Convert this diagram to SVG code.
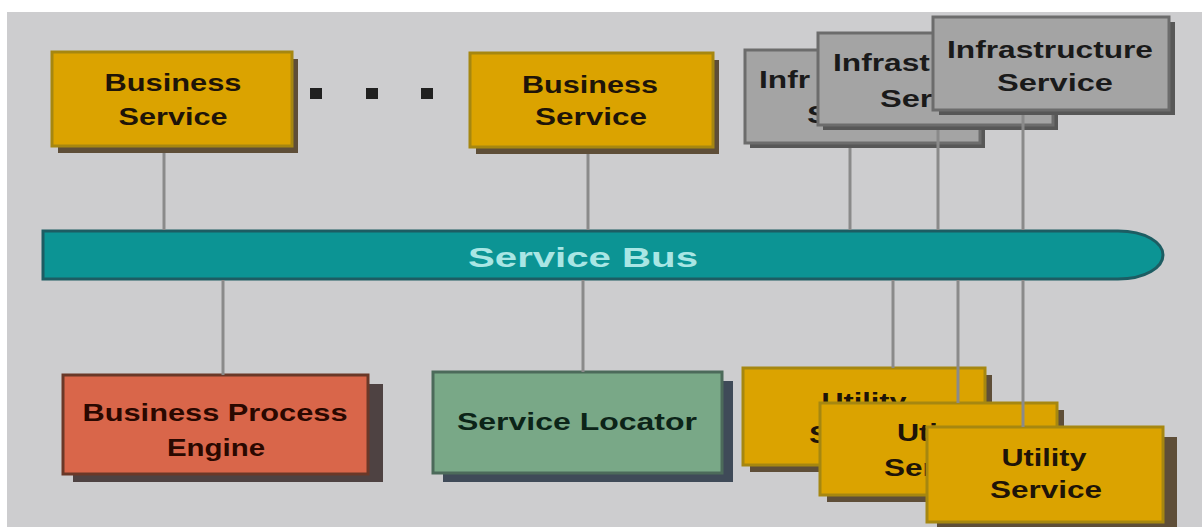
<svg xmlns="http://www.w3.org/2000/svg" width="1202" height="527" viewBox="0 0 1202 527">
<style>
  .lbl{font-family:"Liberation Sans",Arial,sans-serif;font-weight:bold;font-size:23px;text-anchor:middle}
  .st{text-anchor:start}
  .ylw{fill:#dba300;stroke:#a68710;stroke-width:3}
  .ylw-sh{fill:#5e4e38}
  .gry{fill:#a4a4a4;stroke:#6c6c6c;stroke-width:3}
  .gry-sh{fill:#575757}
  .red{fill:#d9664a;stroke:#6a3828;stroke-width:3}
  .red-sh{fill:#4e4242}
  .grn{fill:#79a887;stroke:#4c6a5a;stroke-width:3}
  .grn-sh{fill:#3f4a58}
  .t-dark{fill:#1e1408}
  .t-red{fill:#2a0800}
  .t-grn{fill:#0c2418}
  .t-gry{fill:#1a1a1a}
  .conn line{stroke:#8a8a8a;stroke-width:3}
</style>
<defs>
  <clipPath id="clipInfA"><path d="M745,50 H818 V130 H985 V148 H745 Z"/></clipPath>
  <clipPath id="clipInfB"><path d="M818,33 H933 V115 H1058 V130 H818 Z"/></clipPath>
  <clipPath id="clipUtA"><path d="M743,368 H993 V403 H820 V472 H743 Z"/></clipPath>
  <clipPath id="clipUtB"><path d="M820,403 H1064 V427 H927 V502 H820 Z"/></clipPath>
</defs>
<rect x="0" y="0" width="1202" height="527" fill="#ffffff"/>
<rect x="7" y="12" width="1195" height="515" fill="#cdcdcf"/>

<g id="service-bus">
  <path d="M43,231 H1118 C1146,231 1163,243 1163,255 C1163,267 1146,279 1118,279 H43 Z" fill="#0c9494" stroke="#1d5d63" stroke-width="3"/>
  <text class="lbl" x="583" y="267" style="font-size:28px" fill="#a9e6e4" textLength="230" lengthAdjust="spacingAndGlyphs">Service Bus</text>
</g>

<g id="business-service-1">
  <rect class="ylw-sh" x="58" y="59" width="240" height="94"/>
  <rect class="ylw" x="52" y="52" width="240" height="94"/>
  <text class="lbl t-dark" x="173" y="91" textLength="137" lengthAdjust="spacingAndGlyphs">Business</text>
  <text class="lbl t-dark" x="173" y="125" textLength="109" lengthAdjust="spacingAndGlyphs">Service</text>
</g>

<g id="ellipsis" fill="#202020">
  <rect x="310" y="88" width="12" height="11"/>
  <rect x="366" y="88" width="12" height="11"/>
  <rect x="421" y="88" width="12" height="11"/>
</g>

<g id="business-service-2">
  <rect class="ylw-sh" x="476" y="60" width="243" height="94"/>
  <rect class="ylw" x="470" y="53" width="243" height="94"/>
  <text class="lbl t-dark" x="590" y="93" textLength="136" lengthAdjust="spacingAndGlyphs">Business</text>
  <text class="lbl t-dark" x="591" y="125" textLength="112" lengthAdjust="spacingAndGlyphs">Service</text>
</g>

<g id="infrastructure-service-1">
  <rect class="gry-sh" x="750" y="55" width="235" height="93"/>
  <rect class="gry" x="745" y="50" width="235" height="93"/>
  <g clip-path="url(#clipInfA)">
    <text class="lbl st t-gry" transform="translate(759,88) scale(1.378,1)">Infr</text>
    <text class="lbl st t-gry" transform="translate(807,123) scale(1.418,1)">S</text>
  </g>
</g>

<g id="infrastructure-service-2">
  <rect class="gry-sh" x="823" y="38" width="235" height="92"/>
  <rect class="gry" x="818" y="33" width="235" height="92"/>
  <g clip-path="url(#clipInfB)">
    <text class="lbl st t-gry" transform="translate(833,71) scale(1.378,1)">Infrast</text>
    <text class="lbl st t-gry" transform="translate(880,107) scale(1.418,1)">Ser</text>
  </g>
</g>

<g id="infrastructure-service-3">
  <rect class="gry-sh" x="939" y="22" width="236" height="93"/>
  <rect class="gry" x="933" y="17" width="236" height="93"/>
  <text class="lbl t-gry" x="1050" y="58" textLength="206" lengthAdjust="spacingAndGlyphs">Infrastructure</text>
  <text class="lbl t-gry" x="1055" y="91" textLength="116" lengthAdjust="spacingAndGlyphs">Service</text>
</g>

<g id="business-process-engine">
  <rect class="red-sh" x="73" y="384" width="310" height="98"/>
  <rect class="red" x="63" y="375" width="305" height="99"/>
  <text class="lbl t-red" x="215" y="421" textLength="265" lengthAdjust="spacingAndGlyphs">Business Process</text>
  <text class="lbl t-red" x="216" y="456" textLength="98" lengthAdjust="spacingAndGlyphs">Engine</text>
</g>

<g id="service-locator">
  <rect class="grn-sh" x="443" y="381" width="290" height="101"/>
  <rect class="grn" x="433" y="372" width="289" height="101"/>
  <text class="lbl t-grn" x="577" y="430" textLength="240" lengthAdjust="spacingAndGlyphs">Service Locator</text>
</g>

<g id="utility-service-1">
  <rect class="ylw-sh" x="750" y="375" width="242" height="97"/>
  <rect class="ylw" x="743" y="368" width="242" height="97"/>
  <g clip-path="url(#clipUtA)">
    <text class="lbl t-dark" x="864" y="410" textLength="85" lengthAdjust="spacingAndGlyphs">Utility</text>
    <text class="lbl st t-dark" transform="translate(809,443) scale(1.37,1)">S</text>
  </g>
</g>

<g id="utility-service-2">
  <rect class="ylw-sh" x="827" y="410" width="237" height="92"/>
  <rect class="ylw" x="820" y="403" width="237" height="92"/>
  <g clip-path="url(#clipUtB)">
    <text class="lbl st t-dark" transform="translate(897,441) scale(1.33,1)">Uti</text>
    <text class="lbl st t-dark" transform="translate(884,476) scale(1.37,1)">Ser</text>
  </g>
</g>

<g id="utility-service-3">
  <rect class="ylw-sh" x="937" y="437" width="240" height="95"/>
  <rect class="ylw" x="927" y="427" width="236" height="95"/>
  <text class="lbl t-dark" x="1044" y="466" textLength="85" lengthAdjust="spacingAndGlyphs">Utility</text>
  <text class="lbl t-dark" x="1046" y="498" textLength="112" lengthAdjust="spacingAndGlyphs">Service</text>
</g>

<g id="connectors" class="conn">
  <line x1="164" y1="153" x2="164" y2="230"/>
  <line x1="588" y1="154" x2="588" y2="230"/>
  <line x1="850" y1="148" x2="850" y2="230"/>
  <line x1="938" y1="130" x2="938" y2="230"/>
  <line x1="1023" y1="115" x2="1023" y2="230"/>
  <line x1="223" y1="280" x2="223" y2="375"/>
  <line x1="583" y1="280" x2="583" y2="372"/>
  <line x1="893" y1="280" x2="893" y2="368"/>
  <line x1="958" y1="280" x2="958" y2="403"/>
  <line x1="1023" y1="280" x2="1023" y2="427"/>
</g>
</svg>
